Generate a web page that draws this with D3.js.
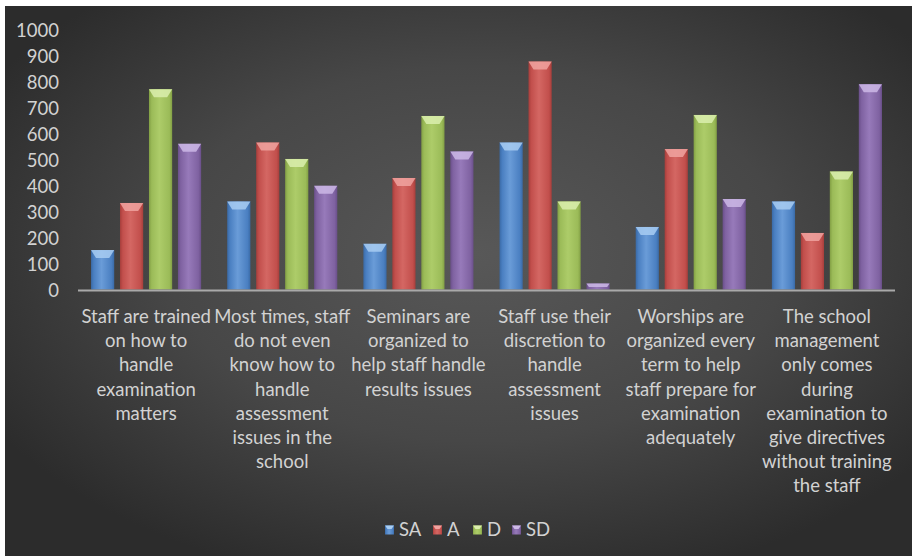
<!DOCTYPE html>
<html>
<head>
<meta charset="utf-8">
<script src="https://cdn.jsdelivr.net/npm/d3@7"></script>
<style>
  html, body { margin: 0; padding: 0; background: #ffffff; }
  svg { display: block; }
  text { font-family: Lato, "Open Sans", sans-serif; fill: #d2d2d2; }
</style>
</head>
<body>
<svg id="chart" width="912" height="556"></svg>
<script>
// Survey responses per statement
const categories = [
  "Staff are trained\non how to\nhandle\nexamination\nmatters",
  "Most times, staff\ndo not even\nknow how to\nhandle\nassessment\nissues in the\nschool",
  "Seminars are\norganized to\nhelp staff handle\nresults issues",
  "Staff use their\ndiscretion to\nhandle\nassessment\nissues",
  "Worships are\norganized every\nterm to help\nstaff prepare for\nexamination\nadequately",
  "The school\nmanagement\nonly comes\nduring\nexamination to\ngive directives\nwithout training\nthe staff"
];
const seriesNames = ["SA", "A", "D", "SD"];
const saValues = [155, 342, 179, 568, 244, 342];
const aValues  = [336, 568, 432, 879, 543, 221];
const dValues  = [773, 505, 670, 342, 674, 457];
const sdValues = [563, 402, 534, 27, 351, 792];
const yTicks = [0, 100, 200, 300, 400, 500, 600, 700, 800, 900, 1000];
const seriesColors = {
  SA: { base: "#4a7fc1", light: "#6a9cd8", dark: "#3a6aa6", cap: "#a8cdf2" },
  A:  { base: "#c24f4c", light: "#d46763", dark: "#a63e3b", cap: "#f0a3a0" },
  D:  { base: "#9bbb58", light: "#adcc69", dark: "#829f44", cap: "#dbeeae" },
  SD: { base: "#7f62a1", light: "#977aba", dark: "#6a4f8a", cap: "#cdb9e6" }
};

const valuesBySeries = { SA: saValues, A: aValues, D: dValues, SD: sdValues };
const rows = categories.map((c, i) => ({
  category: c,
  values: seriesNames.map(s => ({ series: s, value: valuesBySeries[s][i] }))
}));

const svg = d3.select("#chart");
const defs = svg.append("defs");

// Dark chart area with a soft radial glow
const bg = defs.append("radialGradient").attr("id", "bgGrad")
  .attr("cx", "52%").attr("cy", "45%").attr("r", "62%");
bg.append("stop").attr("offset", "0%").attr("stop-color", "#585858");
bg.append("stop").attr("offset", "55%").attr("stop-color", "#474747");
bg.append("stop").attr("offset", "100%").attr("stop-color", "#2c2c2c");

svg.append("rect").attr("x", 5).attr("y", 6).attr("width", 907).attr("height", 550)
  .attr("fill", "url(#bgGrad)");

// Bevel-style gradients for each series
seriesNames.forEach(s => {
  const c = seriesColors[s];
  const g = defs.append("linearGradient").attr("id", "grad-" + s)
    .attr("x1", "0%").attr("x2", "100%").attr("y1", "0%").attr("y2", "0%");
  g.append("stop").attr("offset", "0%").attr("stop-color", c.dark);
  g.append("stop").attr("offset", "12%").attr("stop-color", c.base);
  g.append("stop").attr("offset", "45%").attr("stop-color", c.light);
  g.append("stop").attr("offset", "88%").attr("stop-color", c.base);
  g.append("stop").attr("offset", "100%").attr("stop-color", c.dark);
});

const plot = { left: 78, right: 895, top: 30, bottom: 290.5 };

const x0 = d3.scaleBand().domain(categories).range([plot.left, plot.right]).padding(0);
const x1 = d3.scaleBand().domain(seriesNames).range([0, x0.bandwidth()])
  .paddingInner(0.2).paddingOuter(0.45);
const y = d3.scaleLinear().domain([0, 1000]).range([plot.bottom, plot.top]);

// Y axis labels
const yAxis = d3.axisLeft(y).tickValues(yTicks).tickSize(0).tickPadding(19).tickFormat(d3.format("d"));
const yg = svg.append("g").attr("transform", `translate(${plot.left},0)`).call(yAxis);
yg.select(".domain").remove();
yg.selectAll("text").attr("font-size", 18.5).attr("fill", "#d2d2d2")
  .attr("font-family", "Lato, 'Open Sans', sans-serif").attr("dy", "0.35em");

// Bars
const groups = svg.append("g").selectAll("g").data(rows).join("g")
  .attr("transform", d => `translate(${x0(d.category)},0)`);

const bars = groups.selectAll("g.bar").data(d => d.values).join("g").attr("class", "bar");

bars.append("rect")
  .attr("x", d => x1(d.series))
  .attr("y", d => y(d.value))
  .attr("width", x1.bandwidth())
  .attr("height", d => y(0) - y(d.value) - 1)
  .attr("fill", d => `url(#grad-${d.series})`);

// Light bevel on top of each bar
bars.append("path")
  .attr("d", d => {
    const bx = x1(d.series), bw = x1.bandwidth(), top = y(d.value);
    const h = Math.min(8, (y(0) - top) / 2);
    const ins = Math.min(5, h * 0.7);
    return `M${bx},${top}L${bx + bw},${top}L${bx + bw - ins},${top + h}L${bx + ins},${top + h}Z`;
  })
  .attr("fill", d => seriesColors[d.series].cap)
  .attr("opacity", 0.85);

// Category axis line
svg.append("line")
  .attr("x1", plot.left).attr("x2", plot.right)
  .attr("y1", y(0)).attr("y2", y(0))
  .attr("stroke", "#a9a9a9").attr("stroke-width", 2);

// Wrapped category labels
const lineHeight = 24.2;
svg.append("g").selectAll("text").data(categories).join("text")
  .attr("text-anchor", "middle")
  .attr("font-size", 18.5)
  .attr("fill", "#d2d2d2")
  .each(function (d) {
    const t = d3.select(this);
    d.split("\n").forEach((line, i) => {
      t.append("tspan")
        .attr("x", x0(d) + x0.bandwidth() / 2)
        .attr("y", 323 + i * lineHeight)
        .text(line);
    });
  });

// Legend
const legendX = [385, 433, 473, 512];
const legend = svg.append("g").selectAll("g").data(seriesNames).join("g")
  .attr("transform", (d, i) => `translate(${legendX[i]},530)`);
legend.append("rect").attr("x", 0).attr("y", -4.5).attr("width", 9).attr("height", 9)
  .attr("fill", d => `url(#grad-${d})`);
legend.append("path").attr("d", "M0,-4.5L9,-4.5L6.5,-1L2.5,-1Z")
  .attr("fill", d => seriesColors[d].cap);
legend.append("text").attr("x", 14).attr("y", 0).attr("dy", "0.35em")
  .attr("font-size", 18.5).attr("fill", "#d2d2d2").text(d => d);
</script>
</body>
</html>
